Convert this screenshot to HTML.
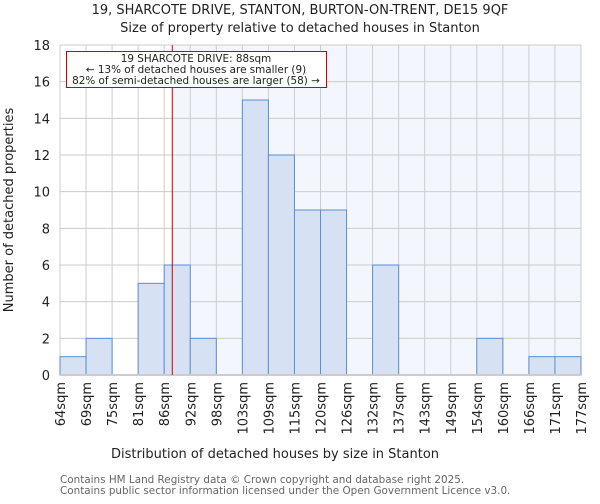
<!DOCTYPE html>
<html><head><meta charset="utf-8"><style>
body{margin:0;background:#fff;font-family:"DejaVu Sans","Liberation Sans",sans-serif;}
</style></head><body>
<svg id="chart" width="600" height="500" xmlns="http://www.w3.org/2000/svg" font-family="DejaVu Sans, Liberation Sans, sans-serif">
<text x="300" y="14" text-anchor="middle" font-size="13" fill="#222">19, SHARCOTE DRIVE, STANTON, BURTON-ON-TRENT, DE15 9QF</text>
<text x="300" y="32" text-anchor="middle" font-size="13" fill="#222">Size of property relative to detached houses in Stanton</text>
<g id="plot"></g>
<text x="275" y="458" text-anchor="middle" font-size="13" fill="#222">Distribution of detached houses by size in Stanton</text>
<text transform="translate(13,210) rotate(-90)" text-anchor="middle" font-size="13" fill="#222">Number of detached properties</text>
<text x="60" y="483" font-size="10.4" fill="#666">Contains HM Land Registry data © Crown copyright and database right 2025.</text>
<text x="60" y="494" font-size="10.4" fill="#666">Contains public sector information licensed under the Open Government Licence v3.0.</text>
</svg>
<script>
const binLabels=["64sqm","69sqm","75sqm","81sqm","86sqm","92sqm","98sqm","103sqm","109sqm","115sqm","120sqm","126sqm","132sqm","137sqm","143sqm","149sqm","154sqm","160sqm","166sqm","171sqm","177sqm"];
const counts=[1,2,0,5,6,2,0,15,12,9,9,0,6,0,0,0,2,0,1,1];
const yTicks=[0,2,4,6,8,10,12,14,16,18];
const markerBin=4.31;
const NS="http://www.w3.org/2000/svg";
const X0=60,X1=581,Y0=375,Y1=45,YMAX=18;
const bw=(X1-X0)/counts.length;
const x=i=>X0+i*bw, y=v=>Y0-(Y0-Y1)*v/YMAX;
const g=document.getElementById('plot');
function mk(t,a){const e=document.createElementNS(NS,t);for(const k in a)e.setAttribute(k,a[k]);g.appendChild(e);return e;}
const mx=x(markerBin);
let e=mk('rect',{x:mx,y:Y1,width:X1-mx,height:Y0-Y1,fill:'#f3f6fd'});


yTicks.forEach(t=>{
 let l=mk('line',{x1:X0,x2:X1,y1:y(t),y2:y(t),stroke:'#ccc','stroke-width':1});
 
 
 let tx=mk('text',{x:X0-10,y:y(t)+5,'text-anchor':'end','font-size':13,fill:'#222'});
 tx.textContent=t;
 
 
});
binLabels.forEach((b,i)=>{
 let l=mk('line',{x1:x(i),x2:x(i),y1:Y1,y2:Y0,stroke:'#ccc','stroke-width':1});
 
 
 let tx=mk('text',{transform:`translate(${x(i)+5},382) rotate(-90)`,'text-anchor':'end','font-size':13,fill:'#222'});
 tx.textContent=b;
 
 
});
counts.forEach((c,i)=>{
 if(c<=0)return;
 let r=mk('rect',{x:x(i),y:y(c),width:bw,height:Y0-y(c),fill:'#d6e2f3',stroke:'#5b8fd4','stroke-width':1});
 
 
});
let ax=mk('line',{x1:X0,x2:X1,y1:Y0,y2:Y0,stroke:'#ccc','stroke-width':2});


let ml=mk('line',{x1:mx,x2:mx,y1:Y1,y2:Y0,stroke:'#cc0000','stroke-width':1});


let box=mk('rect',{x:66.5,y:51.5,width:260,height:36,fill:'#fff',stroke:'#cc0000','stroke-width':1});


["19 SHARCOTE DRIVE: 88sqm","← 13% of detached houses are smaller (9)","82% of semi-detached houses are larger (58) →"].forEach((s,i)=>{
 let t=mk('text',{x:196,y:62+i*11,'text-anchor':'middle','font-size':10.4,fill:'#222'});
 t.textContent=s;
 
 
});
</script>
</body></html>
